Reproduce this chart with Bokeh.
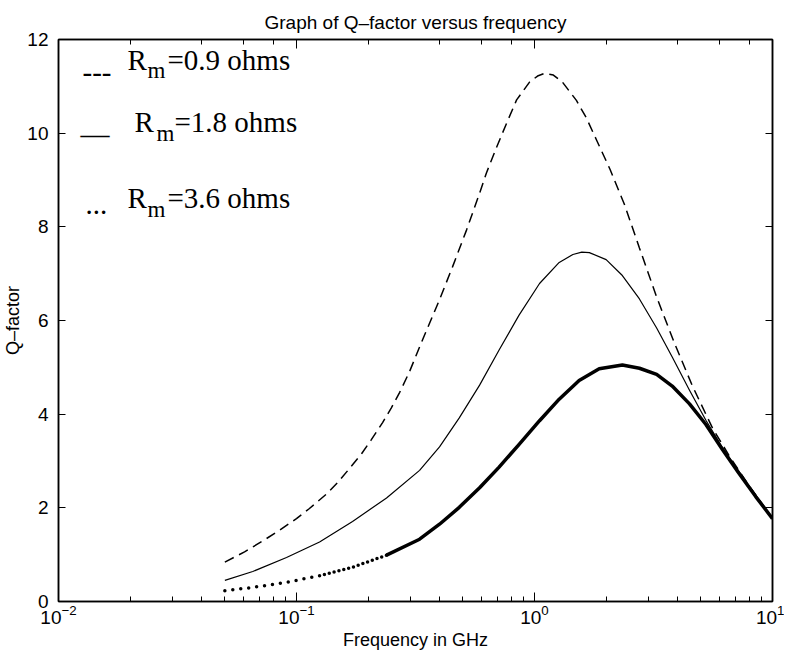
from bokeh.plotting import figure
from bokeh.models import LinearAxis, FixedTicker, LogTicker, Range1d, CustomJSTickFormatter
from bokeh.core.properties import value
from bokeh.embed import file_html
from bokeh.resources import INLINE

# ---------------- data ----------------
freq_rm09 = [0.05, 0.0605, 0.072, 0.0848, 0.1, 0.113, 0.134, 0.149, 0.167, 0.188,
             0.206, 0.23, 0.25, 0.271, 0.298, 0.338, 0.398, 0.452, 0.518, 0.588,
             0.628, 0.693, 0.763, 0.841, 0.953, 1.03, 1.106, 1.2, 1.31, 1.5, 1.65,
             1.82, 2.08, 2.39, 2.76, 3.26, 3.87, 4.61, 5.6, 6.6, 7.9, 10.0]
q_rm09 = [0.84, 1.06, 1.29, 1.52, 1.77, 1.98, 2.30, 2.54, 2.84, 3.16,
          3.45, 3.82, 4.13, 4.46, 4.90, 5.58, 6.43, 7.14, 7.93, 8.72,
          9.15, 9.70, 10.21, 10.71, 11.09, 11.22, 11.28, 11.24, 11.09, 10.70, 10.33,
          9.86, 9.22, 8.47, 7.55, 6.50, 5.52, 4.60, 3.70, 3.10, 2.50, 1.77]

freq_rm18 = [0.05, 0.0655, 0.0908, 0.125, 0.172, 0.239, 0.329, 0.399, 0.483, 0.588,
             0.71, 0.86, 1.05, 1.27, 1.45, 1.58, 1.7, 2.0, 2.34, 2.76, 3.26, 3.79,
             4.48, 5.25, 6.17, 7.2, 8.5, 10.0]
q_rm18 = [0.45, 0.64, 0.94, 1.27, 1.71, 2.21, 2.80, 3.30, 3.92, 4.62,
          5.37, 6.11, 6.79, 7.24, 7.41, 7.46, 7.45, 7.30, 6.96, 6.46, 5.84, 5.22,
          4.51, 3.87, 3.28, 2.79, 2.27, 1.77]

freq_rm36 = [0.05, 0.0655, 0.0908, 0.125, 0.172, 0.239, 0.329, 0.399, 0.483, 0.588,
             0.71, 0.86, 1.05, 1.27, 1.54, 1.87, 2.34, 2.76, 3.26, 3.79, 4.48,
             5.25, 6.17, 7.2, 8.5, 10.0]
q_rm36 = [0.23, 0.30, 0.41, 0.55, 0.73, 0.99, 1.33, 1.65, 2.01, 2.43,
          2.87, 3.35, 3.86, 4.32, 4.72, 4.97, 5.05, 4.98, 4.85, 4.60, 4.22,
          3.78, 3.24, 2.75, 2.24, 1.77]

y_ticks = [0, 2, 4, 6, 8, 10, 12]
legend_values = ["=0.9 ohms", "=1.8 ohms", "=3.6 ohms"]
legend_marks = ["---", "\u2014", "..."]

TITLE = "Graph of Q\u2013factor versus frequency"
X_LABEL = "Frequency in GHz"
Y_LABEL = "Q\u2013factor"

# ---------------- layout ----------------
FRAME_W, FRAME_H = 714, 562
X_MIN, X_MAX = 0.01, 10.0
Y_MIN, Y_MAX = 0.0, 12.0
SANS = "Liberation Sans"
SERIF = "Liberation Serif"

p = figure(x_axis_type="log", x_range=Range1d(X_MIN, X_MAX), y_range=Range1d(Y_MIN, Y_MAX),
           frame_width=FRAME_W, frame_height=FRAME_H,
           min_border_left=51, min_border_right=12, min_border_top=39, min_border_bottom=50,
           output_backend="svg", toolbar_location=None, title=TITLE,
           background_fill_color="white", border_fill_color="white")
p.grid.visible = False
p.outline_line_color = "black"
p.outline_line_width = 1.5

p.title.align = "center"
p.title.text_font = SANS
p.title.text_font_size = "19px"
p.title.text_font_style = "normal"
p.title.text_color = "black"
p.title.standoff = 13


def style_axis(ax):
    ax.axis_line_color = "black"
    ax.axis_line_width = 1.5
    ax.major_tick_line_color = "black"
    ax.minor_tick_line_color = "black"
    ax.major_tick_out = 0
    ax.minor_tick_out = 0
    ax.major_label_text_color = "black"
    ax.major_label_text_font = SANS
    ax.major_label_text_font_size = "19px"
    ax.axis_label_text_font = SANS
    ax.axis_label_text_font_style = "normal"
    ax.axis_label_text_font_size = "18px"
    ax.axis_label_text_color = "black"


xa = p.xaxis[0]
style_axis(xa)
xa.major_tick_in = 9
xa.minor_tick_in = 5
xa.major_label_standoff = 3
xa.axis_label = X_LABEL
xa.axis_label_standoff = 3

ya = p.yaxis[0]
style_axis(ya)
ya.ticker = FixedTicker(ticks=y_ticks)
ya.major_tick_in = 7
ya.minor_tick_in = 0
ya.major_label_standoff = 10
ya.axis_label = Y_LABEL
ya.axis_label_standoff = 1

# tick marks on the right and top edges (no labels)
blank = CustomJSTickFormatter(code="return ''")
ra = LinearAxis(ticker=FixedTicker(ticks=y_ticks), formatter=blank)
style_axis(ra)
ra.major_tick_in = 7
ra.minor_tick_in = 0
ra.major_label_text_font_size = "1px"
ra.major_label_standoff = 0
p.add_layout(ra, "right")

ta = LinearAxis(ticker=LogTicker(), formatter=blank)
style_axis(ta)
ta.major_tick_in = 9
ta.minor_tick_in = 5
ta.major_label_text_font_size = "1px"
ta.major_label_standoff = 0
p.add_layout(ta, "above")

# ---------------- curves ----------------
p.line(freq_rm09, q_rm09, line_color="black", line_width=1.5, line_dash="10 6")
p.line(freq_rm18, q_rm18, line_color="black", line_width=1.2, line_join="round")
# thick dotted curve: sparse dots at low frequency, merging into a thick line
p.line(freq_rm36[:4], q_rm36[:4], line_color="black", line_width=3.5, line_dash="0 8", line_cap="round")
p.line(freq_rm36[3:6], q_rm36[3:6], line_color="black", line_width=3.5, line_dash="0 5", line_cap="round")
p.line(freq_rm36[5:], q_rm36[5:], line_color="black", line_width=3.5, line_join="round")


# ---------------- legend (text) ----------------
def at(dx, dy):
    """frame pixel offsets (from top-left of the frame) -> data coordinates"""
    x = 10 ** (-2 + 3.0 * dx / FRAME_W)
    y = Y_MAX - (Y_MAX - Y_MIN) * dy / FRAME_H
    return x, y


# mark, R, subscript m, value : (dx, dy) anchor of each text
entries = [
    ((24, 33), (69, 20), (89, 31), (109, 20)),
    ((22, 94), (76, 82), (98, 94), (116, 82)),
    ((27, 165), (69, 158), (89, 170), (109, 158)),
]
big_x, big_y, big_t = [], [], []
sub_x, sub_y, sub_t = [], [], []
for (mk, rr, mm, vv), mark, val in zip(entries, legend_marks, legend_values):
    for pos, txt in ((mk, mark), (rr, "R"), (vv, val)):
        x, y = at(*pos)
        big_x.append(x); big_y.append(y); big_t.append(txt)
    x, y = at(*mm)
    sub_x.append(x); sub_y.append(y); sub_t.append("m")

p.text(x=big_x, y=big_y, text=big_t, text_font=value(SERIF), text_font_size=value("29px"),
       text_color="black", text_baseline="alphabetic", text_align="left")
p.text(x=sub_x, y=sub_y, text=sub_t, text_font=value(SERIF), text_font_size=value("23px"),
       text_color="black", text_baseline="alphabetic", text_align="left")

open("out.html", "w").write(file_html(p, INLINE))
